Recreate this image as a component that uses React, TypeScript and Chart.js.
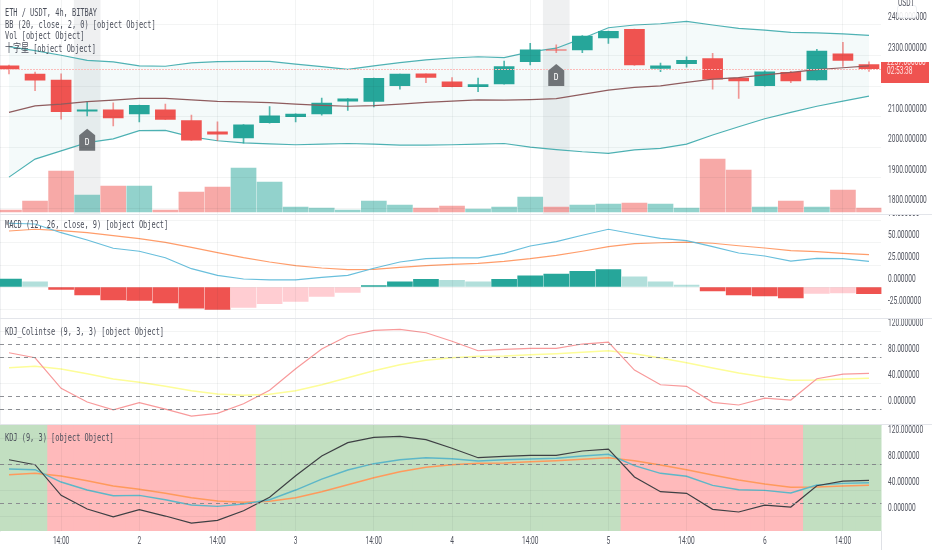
import { useEffect, useRef } from "react"
import { Chart, registerables } from "chart.js"

const candleIdx = Array.from({ length: 34 }, (_, i) => i)
const xTicks = [2, 5, 8, 11, 14, 17, 20, 23, 26, 29, 32]
const xTickLabels = ["14:00", "2", "14:00", "3", "14:00", "4", "14:00", "5", "14:00", "6", "14:00"]

const opens = [2266, 2239, 2220, 2118, 2122, 2109, 2122, 2087, 2050, 2030, 2080, 2100, 2109, 2151, 2150, 2201, 2240, 2214, 2198, 2207, 2280, 2320, 2318, 2358, 2386, 2258, 2273, 2290, 2226, 2201, 2245, 2220, 2306, 2270]
const closes = [2256, 2219, 2116, 2122, 2096, 2137, 2091, 2023, 2043, 2073, 2103, 2108, 2144, 2158, 2225, 2239, 2228, 2198, 2205, 2264, 2319, 2316, 2364, 2379, 2269, 2266, 2284, 2223, 2217, 2247, 2217, 2315, 2284, 2257]
const highs = [2269, 2246, 2240, 2149, 2145, 2138, 2141, 2105, 2083, 2074, 2133, 2109, 2161, 2159, 2226, 2239, 2240, 2228, 2226, 2282, 2340, 2335, 2365, 2380, 2387, 2275, 2296, 2307, 2229, 2250, 2248, 2320, 2343, 2279]
const lows = [2240, 2185, 2092, 2102, 2070, 2083, 2090, 2022, 2021, 2013, 2079, 2083, 2105, 2120, 2132, 2190, 2211, 2197, 2182, 2206, 2269, 2309, 2309, 2340, 2268, 2247, 2262, 2190, 2160, 2200, 2211, 2219, 2264, 2248]
const volumes = [2000, 11000, 41000, 17000, 26000, 26000, 2000, 20000, 25000, 44000, 30000, 5000, 4000, 2000, 11000, 7000, 4000, 6000, 3000, 5000, 15000, 5000, 7000, 8000, 9000, 8000, 4000, 53000, 42000, 5000, 11000, 5000, 22000, 4000]

const bbUpper = [2329, 2316, 2301, 2284, 2279, 2266, 2265, 2276, 2280, 2281, 2281, 2272, 2264, 2255, 2266, 2277, 2286, 2292, 2296, 2293, 2312, 2324, 2356, 2391, 2400, 2404, 2412, 2400, 2389, 2383, 2376, 2374, 2371, 2366]
const bbMiddle = [2114, 2135, 2141, 2149, 2154, 2160, 2160, 2155, 2150, 2148, 2146, 2141, 2137, 2134, 2136, 2141, 2147, 2151, 2155, 2154, 2156, 2159, 2173, 2187, 2196, 2201, 2212, 2223, 2228, 2237, 2245, 2254, 2260, 2266]
const bbLower = [1902, 1961, 1988, 2015, 2027, 2054, 2055, 2034, 2021, 2014, 2011, 2008, 2010, 2012, 2010, 2007, 2007, 2008, 2010, 2012, 2000, 1992, 1985, 1980, 1991, 1996, 2010, 2040, 2067, 2093, 2114, 2134, 2151, 2167]

const macdLine = [72.4, 71.6, 61.7, 53.4, 44, 40.6, 33.3, 20.8, 13.3, 9.1, 8, 8, 11, 13.3, 21.3, 28.4, 32.2, 33, 33, 38.3, 46.6, 51.5, 58.8, 65.6, 60.2, 55.3, 52.6, 45.8, 38.6, 35.2, 29.5, 32.6, 32.2, 29.2]
const macdSignal = [63.6, 65.6, 64, 61.7, 58.3, 54.9, 50.8, 45.1, 39, 33.3, 28.4, 24.2, 21.6, 19.7, 20.1, 22.4, 24.2, 25.8, 26.9, 29.2, 32.2, 36, 40.6, 45.8, 49.2, 50.3, 51.1, 49.7, 46.9, 44.3, 41.3, 40.1, 38.3, 36.7]
const macdHist = [9, 6, -2.7, -9, -14.8, -15.2, -18.2, -23.9, -25.5, -23.2, -19, -16.4, -10.7, -6.1, 1.5, 6, 8.6, 7.5, 6, 8.6, 12.8, 14.8, 17.7, 19.7, 11.7, 6, 2.3, -4.5, -9, -10.2, -12.5, -7.3, -6.8, -7.6]

const kdjJ = [86.6, 78.9, 31.8, 10.8, -1.1, 9.7, 0, -10.8, -6.6, 8.2, 28.8, 62, 92.3, 112.8, 121, 122.6, 117.4, 104.2, 89.7, 91.8, 93.4, 93.4, 100, 103, 60, 37.4, 34.9, 10.3, 6.2, 16.9, 13.8, 46.6, 53.8, 54.9]
const kdjD = [63.5, 65.7, 61.5, 54.3, 46.2, 41.1, 34.9, 28.2, 23.1, 21.1, 22.6, 28.2, 37.4, 48.2, 58.9, 68.2, 74.9, 78.9, 81.1, 81.5, 83.5, 85.1, 87.2, 89.7, 85.1, 78.5, 71.2, 63.1, 55.4, 49.2, 44.2, 44.6, 46.2, 47.2]
const kdjK = [72.3, 71.2, 52.3, 40, 31.2, 31.8, 25.1, 16.9, 14.9, 18.5, 25.1, 40, 56.9, 70.8, 80.5, 86.6, 89.7, 88.2, 84.6, 86.6, 87.7, 88.8, 92.3, 94.9, 77.4, 65.7, 61.1, 47.2, 40.5, 39.5, 35.4, 47.7, 50.3, 51.2]

const priceTicks = [1800, 1900, 2000, 2100, 2200, 2300, 2400]
const macdTicks = [-25, 0, 25, 50, 75]
const kdjTicks = [0, 40, 80, 120]
const kdjUpperLevels = [0, 20, 80, 100]
const kdjLowerLevels = [20, 80]

// the two "十字星" signals
const markerIdx = [3, 21]
const markerTips = [2060, 2272]
const fadedCandles = [21]
const lastPrice = closes[closes.length - 1]
const countdown = "02:53:38"

const UP = "#26a69a"
const DOWN = "#ef5350"
const GRID = "rgba(42, 46, 57, 0.055)"
const TEXT = "#50535e"
// the reference has squeezed glyphs: tall digits at about 2/3 of their width
const SQUEEZE = 0.66

const squeezedText = {
  id: "squeezedText",
  afterDraw(chart: any) {
    const { ctx, scales, chartArea } = chart
    const put = (label: string, x: number, y: number, align: CanvasTextAlign) => {
      ctx.save()
      ctx.translate(x, y)
      ctx.scale(SQUEEZE, 1)
      ctx.textAlign = align
      ctx.fillText(label, 0, 0)
      ctx.restore()
    }
    ctx.save()
    ctx.font = "10px Roboto"
    ctx.fillStyle = TEXT
    ctx.textBaseline = "middle"
    scales.y.ticks.forEach((t: any) => {
      put(t.value.toFixed(6), chartArea.right + 6.5, scales.y.getPixelForValue(t.value) - 7.5, "left")
    })
    if (scales.x.height > 0) {
      xTicks.forEach((v, i) => {
        put(xTickLabels[i], scales.x.getPixelForValue(v), chartArea.bottom + 10, "center")
      })
    }
    ctx.restore()
  },
}

const levelLines = {
  id: "levelLines",
  afterDatasetsDraw(chart: any, _args: any, opts: any) {
    if (!opts.values) return
    const { ctx, chartArea, scales } = chart
    ctx.save()
    ctx.strokeStyle = opts.stroke
    ctx.lineWidth = 1
    ctx.setLineDash(opts.dashes)
    opts.values.forEach((v: number) => {
      const y = Math.round(scales.y.getPixelForValue(v)) + 0.5
      ctx.beginPath()
      ctx.moveTo(chartArea.left, y)
      ctx.lineTo(chartArea.right, y)
      ctx.stroke()
    })
    ctx.restore()
  },
}

const signalMarkers = {
  id: "signalMarkers",
  afterDatasetsDraw(chart: any, _args: any, opts: any) {
    if (!opts.show) return
    const { ctx, scales } = chart
    ctx.save()
    markerIdx.forEach((idx, n) => {
      const x = scales.x.getPixelForValue(idx)
      const y = scales.y.getPixelForValue(markerTips[n])
      ctx.fillStyle = "#6f7377"
      ctx.beginPath()
      ctx.moveTo(x, y)
      ctx.lineTo(x + 8, y + 6.5)
      ctx.lineTo(x + 8, y + 22)
      ctx.lineTo(x - 8, y + 22)
      ctx.lineTo(x - 8, y + 6.5)
      ctx.closePath()
      ctx.fill()
      ctx.fillStyle = "#ffffff"
      ctx.font = "8px 'DejaVu Sans Mono'"
      ctx.textAlign = "center"
      ctx.textBaseline = "middle"
      ctx.fillText("D", x, y + 14)
    })
    ctx.restore()
  },
}

Chart.register(...registerables, squeezedText, levelLines, signalMarkers)

function xScale(showLabels: boolean) {
  return {
    type: "linear",
    min: -0.345,
    max: 33.48,
    offset: false,
    afterBuildTicks: (s: any) => {
      s.ticks = xTicks.map((value) => ({ value }))
    },
    afterFit: (s: any) => {
      s.height = showLabels ? 19 : 0
      s.paddingLeft = 0
      s.paddingRight = 0
    },
    border: { display: showLabels, color: "#dfe1e6" },
    grid: { color: GRID, drawTicks: false, offset: false, z: 1 },
    ticks: { display: false },
  }
}

function yScale(min: number, max: number, ticks: number[]) {
  return {
    type: "linear",
    position: "right",
    min,
    max,
    afterBuildTicks: (s: any) => {
      s.ticks = ticks.map((value) => ({ value }))
    },
    afterFit: (s: any) => {
      s.width = 50.5
      s.paddingTop = 0
      s.paddingBottom = 0
    },
    border: { display: true, color: "#dfe1e6" },
    grid: { color: GRID, drawTicks: false, z: 1 },
    ticks: { display: false },
  }
}

function line(data: number[], color: string, width: number, extra: any = {}) {
  return {
    type: "line",
    data,
    borderColor: color,
    borderWidth: width,
    pointRadius: 0,
    tension: 0,
    order: 0,
    ...extra,
  }
}

const baseOptions = {
  responsive: false,
  animation: false,
  events: [],
  layout: { padding: 0 },
}

function mainConfig() {
  const yMin = 1781.3
  const yMax = 2481.8
  const rising = candleIdx.map((i) => closes[i] >= opens[i])
  const faded = (hex: string) => (hex === UP ? "rgba(38, 166, 154, 0.5)" : "rgba(239, 83, 80, 0.5)")
  return {
    type: "bar",
    data: {
      labels: candleIdx,
      datasets: [
        line(bbUpper, "#4fb2b4", 1.2, { fill: "+1", backgroundColor: "rgba(38, 166, 154, 0.05)", order: 3 }),
        line(bbLower, "#4fb2b4", 1.2, { order: 3 }),
        line(bbMiddle, "#8f5c5e", 1.2),
        {
          data: candleIdx.map((i) => (markerIdx.includes(i) ? [yMin, yMax] : null)),
          backgroundColor: "rgba(110, 114, 125, 0.11)",
          barThickness: 26,
          grouped: false,
          order: 6,
        },
        {
          data: volumes,
          yAxisID: "yVol",
          backgroundColor: rising.map((up) => faded(up ? UP : DOWN)),
          barThickness: 25,
          grouped: false,
          order: 5,
        },
        {
          data: candleIdx.map((i) => [lows[i], highs[i]]),
          backgroundColor: rising.map((up) => (up ? "rgba(38, 166, 154, 0.8)" : "rgba(239, 83, 80, 0.6)")),
          barThickness: 1,
          grouped: false,
          order: 2,
        },
        {
          data: candleIdx.map((i) => [opens[i], closes[i]]),
          backgroundColor: candleIdx.map((i) => {
            const c = rising[i] ? UP : DOWN
            return fadedCandles.includes(i) ? faded(c) : c
          }),
          barThickness: 20,
          minBarLength: 1,
          grouped: false,
          order: 1,
        },
      ],
    },
    options: {
      ...baseOptions,
      scales: {
        x: xScale(false),
        y: yScale(yMin, yMax, priceTicks),
        yVol: { display: false, min: -2000, max: 212000 },
      },
      plugins: {
        legend: { display: false },
        tooltip: { enabled: false },
        levelLines: { values: [lastPrice], stroke: "#fbbdbb", dashes: [2, 1] },
        signalMarkers: { show: true },
      },
    },
  }
}

function macdConfig() {
  const histColors = macdHist.map((v, i) => {
    const growing = i === 0 || v >= macdHist[i - 1]
    if (v >= 0) return growing ? UP : "#b2dfdb"
    return growing ? "#ffcdd2" : DOWN
  })
  return {
    type: "bar",
    data: {
      labels: candleIdx,
      datasets: [
        line(macdLine, "#69bfdc", 1.2),
        line(macdSignal, "#ff9d6b", 1.2),
        { data: macdHist, backgroundColor: histColors, barThickness: 25, order: 2 },
      ],
    },
    options: {
      ...baseOptions,
      scales: { x: xScale(false), y: yScale(-35.2, 81.8, macdTicks) },
      plugins: { legend: { display: false }, tooltip: { enabled: false } },
    },
  }
}

function kdjUpperConfig() {
  return {
    type: "line",
    data: {
      labels: candleIdx,
      datasets: [line(kdjJ, "#f89a9b", 1.2), line(kdjD, "#fdfd98", 1.5)],
    },
    options: {
      ...baseOptions,
      scales: { x: xScale(false), y: yScale(-23, 138.5, kdjTicks) },
      plugins: {
        legend: { display: false },
        tooltip: { enabled: false },
        levelLines: { values: kdjUpperLevels, stroke: "#8f9197", dashes: [4, 4] },
      },
    },
  }
}

function kdjLowerConfig() {
  const yMin = -23
  const yMax = 140
  return {
    type: "bar",
    data: {
      labels: candleIdx,
      datasets: [
        line(kdjJ, "#3e4044", 1.2),
        line(kdjK, "#5db7c8", 1.4, { order: 1 }),
        line(kdjD, "#ff9a5c", 1.5, { order: 2 }),
        {
          data: candleIdx.map(() => [yMin, yMax]),
          backgroundColor: candleIdx.map((i) => (kdjK[i] >= kdjD[i] ? "#c2dfc1" : "#ffbabb")),
          barThickness: 27,
          order: 5,
        },
      ],
    },
    options: {
      ...baseOptions,
      scales: { x: xScale(true), y: yScale(yMin, yMax, kdjTicks) },
      plugins: {
        legend: { display: false },
        tooltip: { enabled: false },
        levelLines: { values: kdjLowerLevels, stroke: "#8a8d90", dashes: [4, 4] },
      },
    },
  }
}

function Pane({ top, height, build }: { top: number; height: number; build: () => any }) {
  const ref = useRef<HTMLCanvasElement>(null)

  useEffect(() => {
    if (!ref.current) return
    const chart = new Chart(ref.current, build())
    return () => chart.destroy()
  }, [build])

  return (
    <canvas
      ref={ref}
      width={932}
      height={height}
      style={{ position: "absolute", left: 0, top, display: "block", background: "#fff" }}
    />
  )
}

const titleStyle = (y: number): any => ({
  position: "absolute",
  left: 5,
  top: y - 6,
  lineHeight: "12px",
  fontSize: 10,
  fontFamily: "'DejaVu Sans Mono', 'Noto Sans CJK SC', monospace",
  color: "#4a4e5a",
  whiteSpace: "nowrap",
  transform: "scaleX(0.695)",
  transformOrigin: "left center",
})

const tagLine = (top: number): any => ({
  position: "absolute",
  left: 6,
  top,
  fontFamily: "Roboto",
  fontSize: 10,
  lineHeight: "10px",
  whiteSpace: "nowrap",
  transform: `scaleX(${SQUEEZE})`,
  transformOrigin: "left center",
})

export default function App() {
  return (
    <div
      style={{ position: "absolute", left: 0, top: 0, width: 932, height: 550, overflow: "hidden", background: "#e3e5ea" }}
    >
      <Pane top={0} height={214} build={mainConfig} />
      <Pane top={215} height={103} build={macdConfig} />
      <Pane top={319} height={105} build={kdjUpperConfig} />
      <Pane top={425} height={125} build={kdjLowerConfig} />

      <div style={titleStyle(13)}>ETH / USDT, 4h, BITBAY</div>
      <div style={titleStyle(25)}>BB (20, close, 2, 0) [object Object]</div>
      <div style={titleStyle(36)}>Vol [object Object]</div>
      <div style={titleStyle(48)}>
        <span style={{ fontSize: 11.5 }}>十字星</span> [object Object]
      </div>
      <div style={titleStyle(225)}>MACD (12, 26, close, 9) [object Object]</div>
      <div style={titleStyle(332)}>KDJ_Colintse (9, 3, 3) [object Object]</div>
      <div style={titleStyle(438)}>KDJ (9, 3) [object Object]</div>

      {/* currency button, sits over the top tick label */}
      <div
        style={{
          position: "absolute",
          left: 897,
          top: 5,
          width: 20,
          height: 13,
          boxSizing: "border-box",
          border: "1px solid #eceef2",
          borderRadius: 3,
          background: "rgba(255, 255, 255, 0.88)",
        }}
      />
      <div
        style={{
          position: "absolute",
          left: 898,
          top: -2,
          fontFamily: "Roboto",
          fontSize: 10,
          lineHeight: "10px",
          color: TEXT,
          transform: `scaleX(${SQUEEZE})`,
          transformOrigin: "left center",
        }}
      >
        USDT
      </div>

      {/* last price tag */}
      <div
        style={{
          position: "absolute",
          left: 881,
          top: 62,
          width: 48,
          height: 21,
          overflow: "hidden",
          background: DOWN,
          color: "#ffe3e2",
        }}
      >
        <div style={tagLine(-5)}>{lastPrice.toFixed(6)}</div>
        <div style={tagLine(4)}>{countdown}</div>
      </div>
      <div style={{ position: "absolute", left: 881, top: 531, width: 1, height: 19, background: "#dfe1e6" }} />
    </div>
  )
}
